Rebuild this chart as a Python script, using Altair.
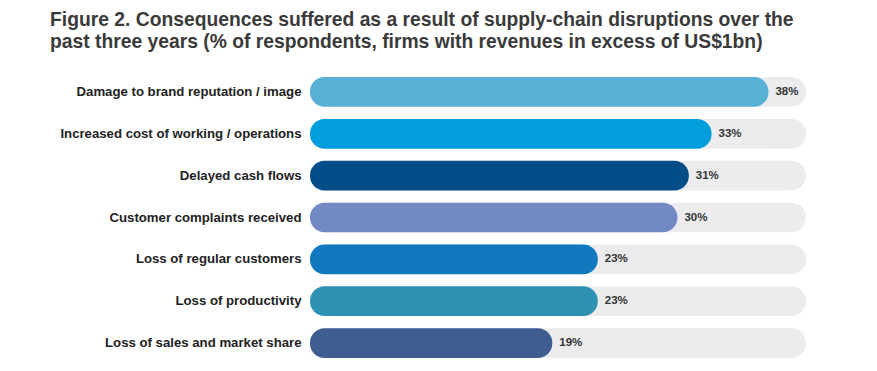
import altair as alt
import pandas as pd

categories = [
    "Damage to brand reputation / image",
    "Increased cost of working / operations",
    "Delayed cash flows",
    "Customer complaints received",
    "Loss of regular customers",
    "Loss of productivity",
    "Loss of sales and market share",
]
values = [38, 33, 31, 30, 23, 23, 19]
labels = ["38%", "33%", "31%", "30%", "23%", "23%", "19%"]
colors = ["#58B0D5", "#019EDE", "#024C87", "#7289C6", "#1078BE", "#2E92B4", "#405D92"]

df = pd.DataFrame({"cat": categories, "value": values, "label": labels, "color": colors})

X0, X1 = -2.3, 41.3
xscale = alt.Scale(domain=[X0, X1], nice=False, zero=False)
yenc = alt.Y("cat:N", sort=categories,
             scale=alt.Scale(paddingInner=0.29, paddingOuter=0.145),
             axis=alt.Axis(title=None, ticks=False, domain=False, labelPadding=9,
                           labelFont="Liberation Sans", labelFontWeight="bold",
                           labelFontSize=13.2, labelColor="#222222", labelLimit=400))

base = alt.Chart(df)

track = base.mark_bar(color="#ECECEE", cornerRadius=14.5).encode(
    y=yenc,
    x=alt.X("value:Q", scale=xscale, axis=None),
    x2=alt.datum(X0),
).transform_calculate(value=str(X1))

bars = base.mark_bar(cornerRadius=14.5).encode(
    y=yenc,
    x=alt.X("value:Q", scale=xscale, axis=None),
    x2=alt.datum(X0),
    color=alt.Color("color:N", scale=None),
)

text = base.mark_text(align="left", baseline="middle", dx=7, font="Liberation Sans",
                      fontWeight="bold", fontSize=11.5, color="#333333").encode(
    y=yenc,
    x=alt.X("value:Q", scale=xscale, axis=None),
    text="label:N",
)

chart = alt.layer(track, bars, text).properties(
    width=496, height=293,
    autosize=alt.AutoSizeParams(type="none"),
    padding={"left": 302, "top": 63, "right": 63, "bottom": 0},
    title=alt.TitleParams(
        text=["Figure 2. Consequences suffered as a result of supply-chain disruptions over the",
              "past three years (% of respondents, firms with revenues in excess of US$1bn)"],
        anchor="start", frame="group", dx=-260, font="Liberation Sans", fontWeight="bold",
        fontSize=19.3, color="#3a3a3a", lineHeight=22, offset=4, baseline="alphabetic",
    ),
).configure_view(stroke=None)

chart.save("out.html", embed_options={"renderer": "svg", "actions": False})
